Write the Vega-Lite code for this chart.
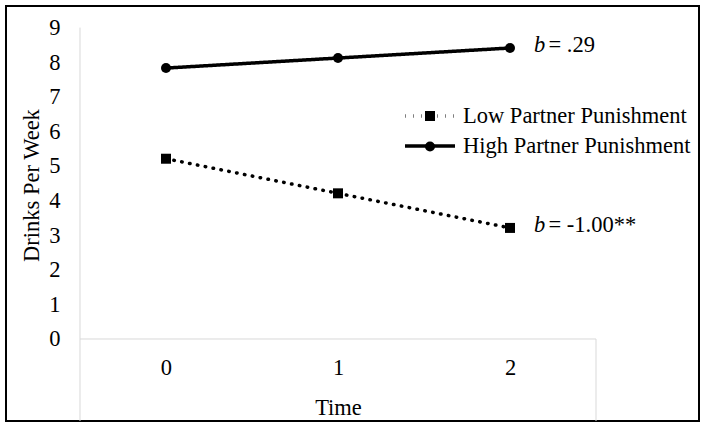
{
  "$schema": "https://vega.github.io/schema/vega-lite/v6.json",
  "width": 693,
  "height": 415,
  "autosize": {"type": "none"},
  "padding": {"left": 6, "top": 6, "right": 5, "bottom": 7},
  "background": "white",
  "config": {"view": {"stroke": "#000", "strokeWidth": 2}, "font": "Liberation Serif"},
  "datasets": {
    "series": [
      {"group": "Low Partner Punishment", "time": 0, "drinks": 5.21},
      {"group": "Low Partner Punishment", "time": 1, "drinks": 4.21},
      {"group": "Low Partner Punishment", "time": 2, "drinks": 3.21},
      {"group": "High Partner Punishment", "time": 0, "drinks": 7.83},
      {"group": "High Partner Punishment", "time": 1, "drinks": 8.12},
      {"group": "High Partner Punishment", "time": 2, "drinks": 8.41}
    ],
    "frame": [
      {"time": -0.5, "time2": -0.5, "drinks": -2.37, "drinks2": 9},
      {"time": -0.5, "time2": 2.5, "drinks": 0, "drinks2": 0},
      {"time": 2.5, "time2": 2.5, "drinks": -2.37, "drinks2": 0}
    ],
    "notes": [
      {"group": "High Partner Punishment", "time": 2, "drinks": 8.41, "stat": "= .29"},
      {"group": "Low Partner Punishment", "time": 2, "drinks": 3.21, "stat": "= -1.00**"}
    ]
  },
  "encoding": {
    "x": {
      "field": "time", "type": "quantitative",
      "scale": {"domain": [-0.9302, 3.0988], "nice": false, "zero": false},
      "axis": {
        "orient": "bottom", "offset": -82, "values": [0, 1, 2], "domain": false, "ticks": false, "grid": false,
        "labelFontSize": 22.5, "labelColor": "#000", "labelFont": "Liberation Serif", "labelPadding": 28,
        "labelBaseline": "middle", "labelFlush": false,
        "title": "Time", "titleFont": "Liberation Serif", "titleFontSize": 22.5, "titleFontWeight": "normal",
        "titleColor": "#000", "titleX": 332, "titleY": 68, "titleBaseline": "middle", "titleAlign": "center"
      }
    },
    "y": {
      "field": "drinks", "type": "quantitative",
      "scale": {"domain": [-2.37, 9.624], "nice": false, "zero": false},
      "axis": {
        "orient": "left", "offset": -74, "values": [0, 1, 2, 3, 4, 5, 6, 7, 8, 9], "domain": false, "ticks": false, "grid": false,
        "labelFontSize": 22.5, "labelColor": "#000", "labelFont": "Liberation Serif", "labelPadding": 20, "labelFlush": false,
        "title": "Drinks Per Week", "titleFont": "Liberation Serif", "titleFontSize": 22.5, "titleFontWeight": "normal",
        "titleColor": "#000", "titleX": -49, "titleY": 179, "titleAngle": -90, "titleBaseline": "middle", "titleAlign": "center"
      }
    }
  },
  "layer": [
    {
      "data": {"name": "frame"},
      "mark": {"type": "rule", "color": "#d9d9d9", "strokeWidth": 1},
      "encoding": {"x2": {"field": "time2"}, "y2": {"field": "drinks2"}}
    },
    {
      "data": {"name": "series"},
      "mark": {"type": "line", "color": "#000", "strokeWidth": 3.5, "strokeCap": "round"},
      "encoding": {
        "strokeDash": {
          "field": "group", "type": "nominal",
          "scale": {"domain": ["High Partner Punishment", "Low Partner Punishment"], "range": [[1, 0], [0.5, 7.5]]},
          "legend": {
            "title": null, "orient": "none", "legendX": 412, "legendY": 98, "padding": 0,
            "values": ["Low Partner Punishment", "High Partner Punishment"],
            "symbolType": "M-2.5,0H2.5", "symbolSize": 400, "symbolStrokeWidth": 3.5, "symbolStrokeColor": "#000",
            "symbolFillColor": "transparent", "symbolOffset": 0,
            "labelFont": "Liberation Serif", "labelFontSize": 22.5, "labelColor": "#000", "labelOffset": 21,
            "labelLimit": 400, "rowPadding": 6
          }
        }
      }
    },
    {
      "data": {"name": "series"},
      "mark": {"type": "point", "filled": true, "color": "#000", "size": 100, "opacity": 1},
      "encoding": {
        "shape": {
          "field": "group", "type": "nominal",
          "scale": {"domain": ["Low Partner Punishment", "High Partner Punishment"], "range": ["square", "circle"]},
          "legend": {
            "title": null, "orient": "none", "legendX": 412.75, "legendY": 98.75, "padding": 0,
            "values": ["Low Partner Punishment", "High Partner Punishment"],
            "symbolSize": 100, "symbolStrokeWidth": 0, "symbolFillColor": "#000", "symbolOffset": 0,
            "labelFont": "Liberation Serif", "labelFontSize": 22.5, "labelOpacity": 0, "labelOffset": 21,
            "labelLimit": 400, "rowPadding": 7.5
          }
        }
      }
    },
    {
      "data": {"name": "notes"},
      "mark": {"type": "text", "font": "Liberation Serif", "fontSize": 22.5, "fontStyle": "italic", "align": "left", "baseline": "middle", "dx": 24, "dy": -3, "color": "#000"},
      "encoding": {"text": {"value": "b"}}
    },
    {
      "data": {"name": "notes"},
      "mark": {"type": "text", "font": "Liberation Serif", "fontSize": 22.5, "align": "left", "baseline": "middle", "dx": 38.5, "dy": -3, "color": "#000"},
      "encoding": {"text": {"field": "stat"}}
    }
  ]
}
